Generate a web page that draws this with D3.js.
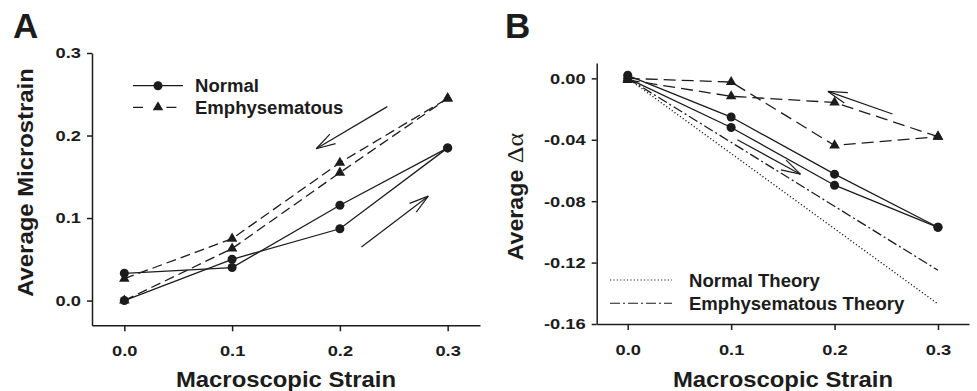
<!DOCTYPE html>
<html>
<head>
<meta charset="utf-8">
<script src="https://cdn.jsdelivr.net/npm/d3@7"></script>
<style>
  body { margin: 0; background: #fff; }
  svg { display: block; font-family: "Liberation Sans", Arial, sans-serif; font-weight: bold; }
</style>
</head>
<body>
<div id="vis"></div>
<script>
// strain levels
var strain = [0, 0.1, 0.2, 0.3];

// panel A, average microstrain
var normalLoadA = [0, 0.050, 0.087, 0.185];
var normalUnloadA = [0.033, 0.040, 0.1155, 0.185];
var emphLoadA = [0, 0.063, 0.155, 0.245];
var emphUnloadA = [0.0265, 0.075, 0.167, 0.245];

// panel B, average delta alpha
var normalLoadB = [0.002, -0.0252, -0.0624, -0.097];
var normalUnloadB = [0, -0.032, -0.0696, -0.097];
var emphLoadB = [0, -0.0024, -0.0437, -0.038];
var emphUnloadB = [-0.001, -0.0117, -0.0157, -0.038];
var theoryStrain = [0, 0.3];
var normalTheory = [0, -0.147];
var emphTheory = [0, -0.125];

var ticksX = [0, 0.1, 0.2, 0.3];
var ticksA = [0, 0.1, 0.2, 0.3];
var ticksB = [0, -0.04, -0.08, -0.12, -0.16];

// arrows as [x0, y0, x1, y1] in data units (tail -> head)
var arrowsA = [[0.244, 0.235, 0.178, 0.184], [0.220, 0.065, 0.282, 0.1265]];
var arrowsB = [[0.256, -0.0232, 0.1936, -0.0085], [0.106, -0.040, 0.167, -0.0624]];

var ink = '#1c1c1c';

var svg = d3.select('#vis').append('svg')
    .attr('width', 977)
    .attr('height', 391);

svg.append('rect').attr('width', 977).attr('height', 391).attr('fill', '#fff');

var xA = d3.scaleLinear().domain([-0.03, 0.33]).range([92, 480]);
var yA = d3.scaleLinear().domain([-0.03, 0.3]).range([325.3, 53]);
var xB = d3.scaleLinear().domain([-0.03, 0.33]).range([596.7, 969]);
var yB = d3.scaleLinear().domain([-0.16, 0.01]).range([324, 63]);

// the original lettering is a bit wider than Liberation Sans
function widen(sel, k)
{
    sel.each(function(){
        var w = this.getComputedTextLength();
        d3.select(this).attr('textLength', w * k).attr('lengthAdjust', 'spacingAndGlyphs');
    });
}

function drawAxes(x, y, yTicks, yFmt)
{
    var gx = svg.append('g')
        .attr('transform', 'translate(0,' + y.range()[0] + ')')
        .call(d3.axisBottom(x).tickValues(ticksX).tickSize(6).tickSizeOuter(0)
            .tickPadding(14).tickFormat(function(d){ return d.toFixed(1); }));
    var gy = svg.append('g')
        .attr('transform', 'translate(' + x.range()[0] + ',0)')
        .call(d3.axisLeft(y).tickValues(yTicks).tickSize(5).tickSizeOuter(0)
            .tickPadding(6).tickFormat(yFmt));
    [gx, gy].forEach(function(g){
        g.selectAll('path, line').attr('stroke', ink).attr('stroke-width', 1.5);
        g.selectAll('text').attr('fill', ink)
            .style('font-family', '"Liberation Sans", Arial, sans-serif')
            .style('font-weight', 'bold').style('font-size', '15.5px')
            .call(widen, 1.18);
    });
}

function drawSeries(x, y, xs, ys, dash, marker)
{
    var line = d3.line().x(function(d, i){ return x(xs[i]); }).y(function(d){ return y(d); });
    svg.append('path')
        .datum(ys)
        .attr('d', line)
        .attr('fill', 'none')
        .attr('stroke', ink)
        .attr('stroke-width', 1.3)
        .attr('stroke-dasharray', dash);
    if(!marker) return;
    svg.append('g').selectAll('path')
        .data(ys)
        .enter().append('path')
        .attr('d', d3.symbol().type(marker == 'circle' ? d3.symbolCircle : d3.symbolTriangle)
            .size(marker == 'circle' ? 64 : 48))
        .attr('transform', function(d, i){ return 'translate(' + x(xs[i]) + ',' + y(d) + ')'; })
        .attr('fill', ink);
}

function drawArrow(x, y, a)
{
    var x0 = x(a[0]), y0 = y(a[1]), x1 = x(a[2]), y1 = y(a[3]);
    var ang = Math.atan2(y0 - y1, x0 - x1);
    var len = 20, spread = 16 * Math.PI / 180;
    var g = svg.append('g').attr('stroke', ink).attr('stroke-width', 1.2).attr('fill', 'none');
    g.append('line').attr('x1', x0).attr('y1', y0).attr('x2', x1).attr('y2', y1);
    [-spread, spread].forEach(function(s){
        g.append('line').attr('x1', x1).attr('y1', y1)
            .attr('x2', x1 + len * Math.cos(ang + s))
            .attr('y2', y1 + len * Math.sin(ang + s));
    });
}

function label(x, y, txt, size, anchor, rot)
{
    return svg.append('text')
        .attr('transform', 'translate(' + x + ',' + y + ')' + (rot ? ' rotate(' + rot + ')' : ''))
        .attr('text-anchor', anchor || 'start')
        .attr('fill', ink)
        .style('font-size', size + 'px')
        .text(txt);
}

// ---- panel A ----
drawAxes(xA, yA, ticksA, function(d){ return d.toFixed(1); });
drawSeries(xA, yA, strain, normalLoadA, null, 'circle');
drawSeries(xA, yA, strain, normalUnloadA, null, 'circle');
drawSeries(xA, yA, strain, emphLoadA, '10,5', 'triangle');
drawSeries(xA, yA, strain, emphUnloadA, '10,5', 'triangle');
arrowsA.forEach(function(a){ drawArrow(xA, yA, a); });

label(13, 38.3, 'A', 35);
label(286, 386.5, 'Macroscopic Strain', 21.5, 'middle').call(widen, 1.11);
label(33, 182.5, 'Average Microstrain', 21.5, 'middle', -90).call(widen, 1.11);

// legend A
svg.append('line').attr('x1', 133).attr('x2', 183).attr('y1', 85.7).attr('y2', 85.7)
    .attr('stroke', ink).attr('stroke-width', 1.3);
svg.append('circle').attr('cx', 158).attr('cy', 85.7).attr('r', 4.5).attr('fill', ink);
svg.append('line').attr('x1', 133).attr('x2', 177).attr('y1', 107.3).attr('y2', 107.3)
    .attr('stroke', ink).attr('stroke-width', 1.3).attr('stroke-dasharray', '10,23.4');
svg.append('path').attr('d', d3.symbol().type(d3.symbolTriangle).size(48))
    .attr('transform', 'translate(158,107.3)').attr('fill', ink);
label(195, 91.7, 'Normal', 18).call(widen, 1.03);
label(195, 113.5, 'Emphysematous', 18).call(widen, 1.03);

// ---- panel B ----
drawAxes(xB, yB, ticksB, function(d){ return d.toFixed(2); });
drawSeries(xB, yB, theoryStrain, normalTheory, '1.2,2.2', null);
drawSeries(xB, yB, theoryStrain, emphTheory, '10,3,2,3', null);
drawSeries(xB, yB, strain, emphLoadB, '12,6', 'triangle');
drawSeries(xB, yB, strain, emphUnloadB, '12,6', 'triangle');
drawSeries(xB, yB, strain, normalLoadB, null, 'circle');
drawSeries(xB, yB, strain, normalUnloadB, null, 'circle');
arrowsB.forEach(function(a){ drawArrow(xB, yB, a); });

label(505, 37.5, 'B', 35);
label(783, 386.5, 'Macroscopic Strain', 21.5, 'middle').call(widen, 1.11);
var yt = label(523, 196.7, 'Average ', 21.5, 'middle', -90);
yt.append('tspan')
    .style('font-family', '"Liberation Serif", "Times New Roman", serif')
    .style('font-weight', 'normal')
    .style('font-size', '24px')
    .text('\u0394\u03b1');
yt.call(widen, 1.08);

// legend B
svg.append('line').attr('x1', 610).attr('x2', 672).attr('y1', 280).attr('y2', 280)
    .attr('stroke', ink).attr('stroke-width', 1.1).attr('stroke-dasharray', '1.2,2.2');
svg.append('line').attr('x1', 610).attr('x2', 672).attr('y1', 303.3).attr('y2', 303.3)
    .attr('stroke', ink).attr('stroke-width', 1.1).attr('stroke-dasharray', '10,3,2,3');
label(689, 286.7, 'Normal Theory', 18).call(widen, 1.03);
label(689, 310, 'Emphysematous Theory', 18).call(widen, 1.03);
</script>
</body>
</html>
